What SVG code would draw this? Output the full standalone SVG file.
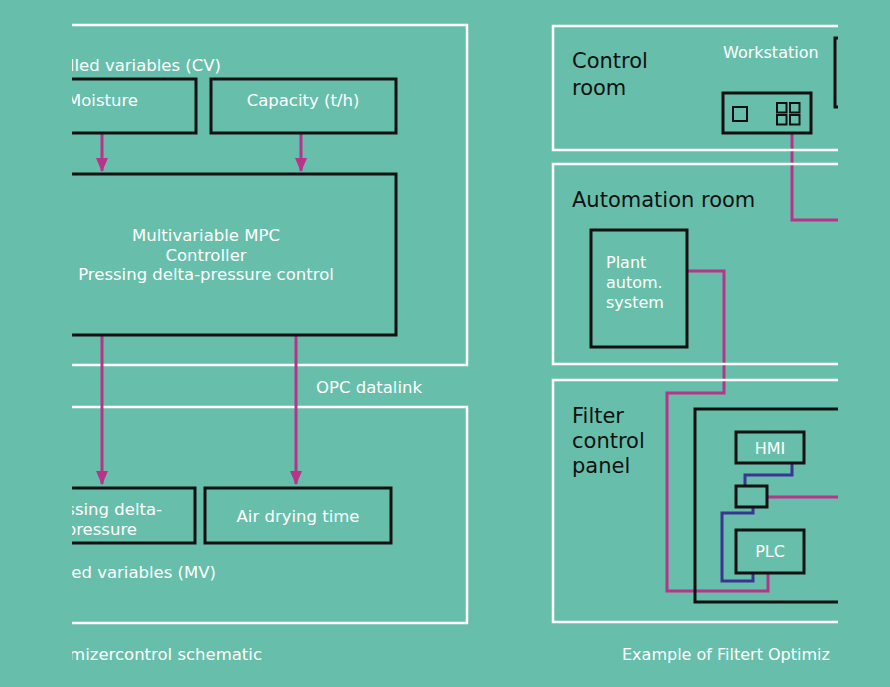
<svg xmlns="http://www.w3.org/2000/svg" width="890" height="687" viewBox="0 0 890 687">
<defs>
<clipPath id="crop"><rect x="72" y="0" width="766" height="687"/></clipPath>
<marker id="ah" viewBox="0 0 14 12" markerWidth="14" markerHeight="12" refX="13" refY="6" orient="auto" markerUnits="userSpaceOnUse">
<path d="M0,0 L14,6 L0,12 Z" fill="#b8338a"/>
</marker>
<style>
.frame{fill:none;stroke:#ffffff;stroke-width:2.5}
.box{fill:none;stroke:#111111;stroke-width:3}
.thin{fill:none;stroke:#111111;stroke-width:2}
.arrow{fill:none;stroke:#b8338a;stroke-width:3}
.mag{fill:none;stroke:#b8338a;stroke-width:3}
.blue{fill:none;stroke:#3a3592;stroke-width:3}
.wt{font-family:"DejaVu Sans","Liberation Sans",sans-serif;font-size:16.5px;fill:#ffffff}
.ws{font-family:"DejaVu Sans","Liberation Sans",sans-serif;font-size:16px;fill:#ffffff}
.bt{font-family:"DejaVu Sans","Liberation Sans",sans-serif;font-size:21px;fill:#111111}
</style>
</defs>
<rect width="890" height="687" fill="#67bfab"/>
<g clip-path="url(#crop)">
<g id="left-frames">
<rect class="frame" x="20" y="25" width="447" height="340"/>
<rect class="frame" x="20" y="407" width="447" height="216"/>
</g>
<g id="connectors">
<line class="arrow" x1="102" y1="133" x2="102" y2="171" marker-end="url(#ah)"/>
<line class="arrow" x1="301" y1="133" x2="301" y2="171" marker-end="url(#ah)"/>
<line class="arrow" x1="102" y1="335" x2="102" y2="484" marker-end="url(#ah)"/>
<line class="arrow" x1="296" y1="335" x2="296" y2="484" marker-end="url(#ah)"/>
<polyline class="mag" points="792,133 792,220 845,220"/>
<polyline class="mag" points="687,271 724,271 724,393 667,393 667,591 768,591 768,573"/>
<polyline class="mag" points="767,497 845,497"/>
<polyline class="blue" points="792,463 792,475 745,475 745,486"/>
<polyline class="blue" points="753,507 753,513 722,513 722,581 753,581 753,573"/>
</g>
<text class="wt" x="221" y="71" text-anchor="end">lled variables (CV)</text>
<g id="moisture">
<rect class="box" x="20" y="79" width="176" height="54"/>
<text class="wt" x="138" y="106" text-anchor="end">Moisture</text>
</g>
<g id="capacity">
<rect class="box" x="211" y="79" width="185" height="54"/>
<text class="wt" x="303" y="106" text-anchor="middle">Capacity (t/h)</text>
</g>
<g id="mpc">
<rect class="box" x="20" y="174" width="376" height="161"/>
<text class="wt" x="206" y="241" text-anchor="middle">Multivariable MPC</text>
<text class="wt" x="206" y="261" text-anchor="middle">Controller</text>
<text class="wt" x="206" y="280" text-anchor="middle">Pressing delta-pressure control</text>
</g>
<text class="wt" x="316" y="393">OPC datalink</text>
<g id="pressing">
<rect class="box" x="20" y="488" width="175" height="55"/>
<text class="wt" x="162" y="515" text-anchor="end">ssing delta-</text>
<text class="wt" x="137" y="535" text-anchor="end">pressure</text>
</g>
<g id="airdrying">
<rect class="box" x="205" y="488" width="186" height="55"/>
<text class="wt" x="298" y="522" text-anchor="middle">Air drying time</text>
</g>
<text class="wt" x="216" y="578" text-anchor="end">ed variables (MV)</text>
<text class="wt" x="262" y="660" text-anchor="end">mizercontrol schematic</text>
<g id="control-room">
<polyline class="frame" points="845,26 553,26 553,150 845,150"/>
<text class="bt" x="572" y="68">Control</text>
<text class="bt" x="572" y="95">room</text>
<text class="ws" x="723" y="58">Workstation</text>
<rect class="box" x="835" y="38" width="40" height="69"/>
</g>
<g id="workstation">
<rect class="box" x="723" y="93" width="88" height="40"/>
<rect class="thin" x="733" y="107" width="14" height="14"/>
<rect class="thin" x="777" y="103" width="9.5" height="9.5"/>
<rect class="thin" x="790" y="103" width="9.5" height="9.5"/>
<rect class="thin" x="777" y="115" width="9.5" height="9.5"/>
<rect class="thin" x="790" y="115" width="9.5" height="9.5"/>
</g>
<g id="automation-room">
<polyline class="frame" points="845,164 553,164 553,364 845,364"/>
<text class="bt" x="572" y="207">Automation room</text>
</g>
<g id="plant-autom">
<rect class="box" x="591" y="230" width="96" height="117"/>
<text class="ws" x="606" y="268">Plant</text>
<text class="ws" x="606" y="288">autom.</text>
<text class="ws" x="606" y="308">system</text>
</g>
<g id="filter-panel">
<polyline class="frame" points="845,380 553,380 553,622 845,622"/>
<text class="bt" x="572" y="423">Filter</text>
<text class="bt" x="572" y="448">control</text>
<text class="bt" x="572" y="473">panel</text>
<polyline class="box" points="845,409 695,409 695,602 845,602"/>
</g>
<g id="hmi">
<rect class="box" x="736" y="432" width="68" height="31"/>
<text class="ws" x="770" y="454" text-anchor="middle">HMI</text>
</g>
<g id="switch">
<rect class="box" x="736" y="486" width="31" height="21"/>
</g>
<g id="plc">
<rect class="box" x="736" y="530" width="68" height="43"/>
<text class="ws" x="770" y="557" text-anchor="middle">PLC</text>
</g>
<text class="ws" x="622" y="660">Example of Filtert Optimiz</text>
</g>
</svg>
